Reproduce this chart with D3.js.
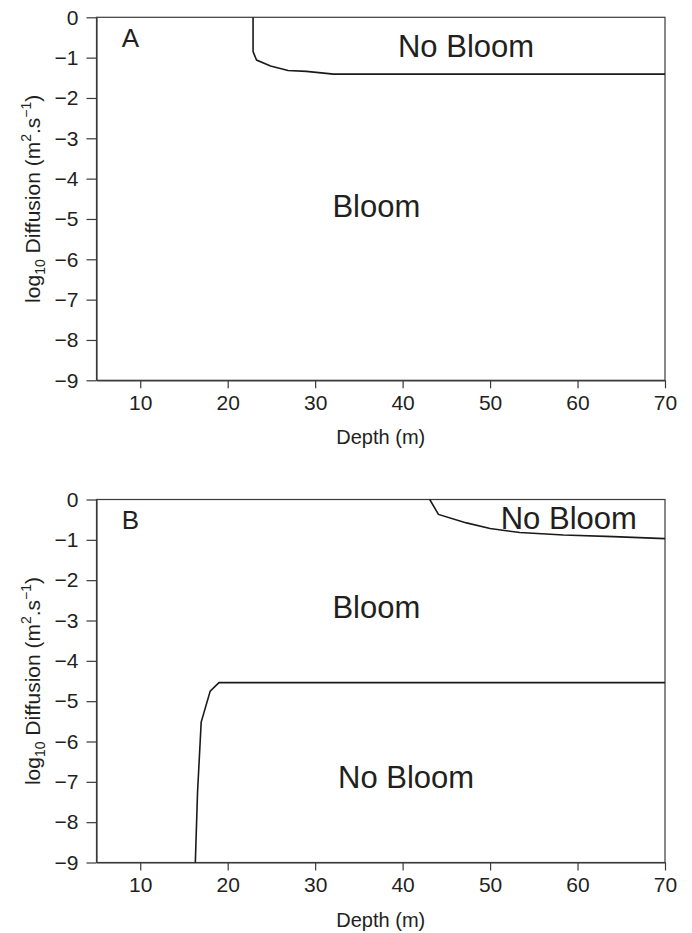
<!DOCTYPE html>
<html>
<head>
<meta charset="utf-8">
<script src="https://cdn.jsdelivr.net/npm/d3@7"></script>
<style>
  body { margin: 0; background: #fff; }
  svg text { font-family: "Liberation Sans", Arial, Helvetica, sans-serif; fill: #231f20; }
</style>
</head>
<body>
<div id="chart"></div>
<script>
// Axis ticks
const depthTicks = [10, 20, 30, 40, 50, 60, 70];
const diffTicks = [0, -1, -2, -3, -4, -5, -6, -7, -8, -9];

// Panel A boundary (depth m, log10 diffusion)
const boundaryA = [[22.9, 0], [22.9, -0.85], [23.3, -1.06], [24.9, -1.21], [26.9, -1.32],
    [29.0, -1.34], [32.1, -1.41], [70, -1.41]];

// Panel B boundaries
const boundaryB1 = [[43.1, 0], [44.1, -0.37], [47.3, -0.58], [50.0, -0.72], [53.4, -0.82],
    [58.4, -0.88], [64.1, -0.92], [70, -0.97]];
const boundaryB2 = [[16.3, -9], [16.55, -7.27], [16.97, -5.52], [18.0, -4.75], [19.0, -4.54], [70, -4.54]];

// Region labels (anchored in data coordinates)
const labelsA = [
    {text: "No Bloom", depth: 47.25, diff: -0.98},
    {text: "Bloom", depth: 37.0, diff: -4.95}
];
const labelsB = [
    {text: "No Bloom", depth: 59.0, diff: -0.72},
    {text: "Bloom", depth: 37.0, diff: -2.94},
    {text: "No Bloom", depth: 40.4, diff: -7.16}
];

const width = 692, height = 933;
const svg = d3.select("#chart").append("svg")
    .attr("width", width)
    .attr("height", height);

function drawPanel(top, letter, boundaries, labels) {
    const plotLeft = 96.5, plotRight = 665, plotH = 363;
    const x = d3.scaleLinear().domain([5, 70]).range([plotLeft, plotRight]);
    const y = d3.scaleLinear().domain([-9, 0]).range([top + plotH, top]);

    const g = svg.append("g");

    // frame
    g.append("rect")
        .attr("x", x(5)).attr("y", y(0))
        .attr("width", x(70) - x(5)).attr("height", y(-9) - y(0))
        .attr("fill", "none").attr("stroke", "#3a3a3a").attr("stroke-width", 1.2);

    const xAxis = g.append("g")
        .attr("transform", `translate(0,${y(-9)})`)
        .call(d3.axisBottom(x).tickValues(depthTicks).tickSize(8).tickPadding(7).tickSizeOuter(0));
    const yAxis = g.append("g")
        .attr("transform", `translate(${x(5)},0)`)
        .call(d3.axisLeft(y).tickValues(diffTicks).tickSize(10).tickPadding(8).tickSizeOuter(0)
            .tickFormat(d => d === 0 ? "0" : "\u2212" + Math.abs(d)));

    [xAxis, yAxis].forEach(a => {
        a.select(".domain").attr("stroke", "#3a3a3a").attr("stroke-width", 1.2);
        a.selectAll(".tick line").attr("stroke", "#3a3a3a").attr("stroke-width", 1.2);
        a.selectAll(".tick text").attr("font-size", 21).attr("fill", "#231f20")
            .style("font-family", "'Liberation Sans', Arial, sans-serif");
    });

    // x axis title
    g.append("text")
        .attr("x", (x(5) + x(70)) / 2)
        .attr("y", y(-9) + 64)
        .attr("text-anchor", "middle")
        .attr("font-size", 20)
        .text("Depth (m)");

    // y axis title
    const yt = g.append("text")
        .attr("transform", `translate(40,${(y(0) + y(-9)) / 2}) rotate(-90)`)
        .attr("text-anchor", "middle")
        .attr("font-size", 21);
    yt.append("tspan").text("log");
    yt.append("tspan").attr("font-size", 14).attr("dy", 5).text("10");
    yt.append("tspan").attr("dy", -5).text(" Diffusion (m");
    yt.append("tspan").attr("font-size", 14).attr("dy", -9).text("2");
    yt.append("tspan").attr("dy", 9).text(".s");
    yt.append("tspan").attr("font-size", 14).attr("dy", -9).text("\u22121");
    yt.append("tspan").attr("dy", 9).text(")");

    // boundaries
    const line = d3.line().x(d => x(d[0])).y(d => y(d[1]));
    boundaries.forEach(b => {
        g.append("path")
            .datum(b)
            .attr("d", line)
            .attr("fill", "none")
            .attr("stroke", "#1a1a1a")
            .attr("stroke-width", 1.6);
    });

    // region labels
    g.selectAll(".region")
        .data(labels)
        .join("text")
        .attr("class", "region")
        .attr("x", d => x(d.depth))
        .attr("y", d => y(d.diff))
        .attr("text-anchor", "middle")
        .attr("font-size", 31)
        .text(d => d.text);

    // panel letter
    g.append("text")
        .attr("x", x(7.9))
        .attr("y", y(-0.74))
        .attr("font-size", 26)
        .text(letter);
}

drawPanel(17.3, "A", [boundaryA], labelsA);
drawPanel(499.5, "B", [boundaryB1, boundaryB2], labelsB);
</script>
</body>
</html>
